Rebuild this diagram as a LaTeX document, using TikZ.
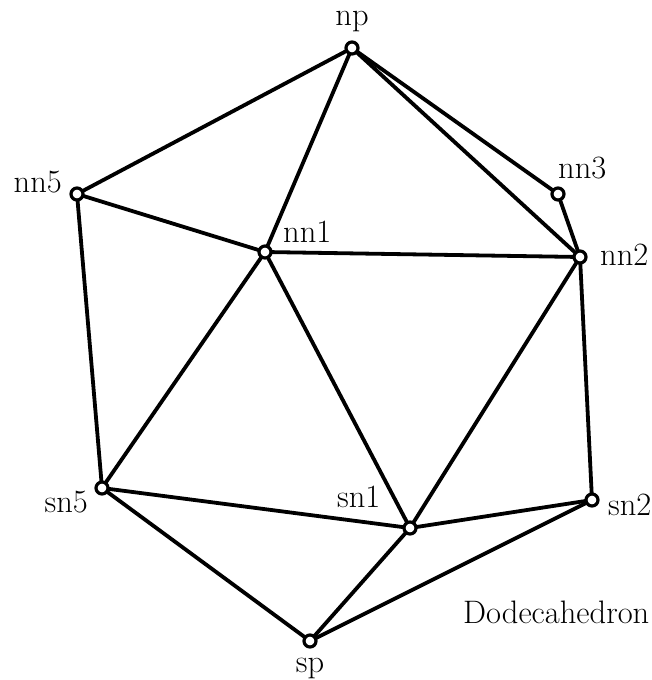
\documentclass[tikz,border=0pt]{standalone}
\begin{document}
\begin{tikzpicture}[x=1pt,y=-1pt,
  vtx/.style={circle,draw=black,fill=white,line width=3.2pt,minimum size=12pt,inner sep=0pt},
  edge/.style={line width=3.8pt,line cap=round},
  lbl/.style={inner sep=0pt,font=\fontsize{32.5}{38}\selectfont}]
\useasboundingbox (0,0) rectangle (651,680);
\coordinate (cnp) at (352,48);
\coordinate (cnn3) at (558,194);
\coordinate (cnn2) at (580,257);
\coordinate (cnn5) at (77,194);
\coordinate (cnn1) at (265,252);
\coordinate (csn5) at (102,488);
\coordinate (csn1) at (410,528);
\coordinate (csn2) at (592,500);
\coordinate (csp) at (310,641);
\draw[edge] (cnp) -- (cnn5);
\draw[edge] (cnp) -- (cnn1);
\draw[edge] (cnp) -- (cnn3);
\draw[edge] (cnp) -- (cnn2);
\draw[edge] (cnn5) -- (cnn1);
\draw[edge] (cnn5) -- (csn5);
\draw[edge] (cnn3) -- (cnn2);
\draw[edge] (cnn1) -- (cnn2);
\draw[edge] (cnn1) -- (csn5);
\draw[edge] (cnn1) -- (csn1);
\draw[edge] (cnn2) -- (csn1);
\draw[edge] (cnn2) -- (csn2);
\draw[edge] (csn5) -- (csn1);
\draw[edge] (csn5) -- (csp);
\draw[edge] (csn1) -- (csn2);
\draw[edge] (csn1) -- (csp);
\draw[edge] (csn2) -- (csp);
\node[vtx] (np) at (cnp) {};
\node[vtx] (nn3) at (cnn3) {};
\node[vtx] (nn2) at (cnn2) {};
\node[vtx] (nn5) at (cnn5) {};
\node[vtx] (nn1) at (cnn1) {};
\node[vtx] (sn5) at (csn5) {};
\node[vtx] (sn1) at (csn1) {};
\node[vtx] (sn2) at (csn2) {};
\node[vtx] (sp) at (csp) {};
\node[lbl,anchor=base] (lnp) at (352,25) {np};
\node[lbl,anchor=base east] (lnn5) at (62,192) {nn5};
\node[lbl,anchor=base west] (lnn3) at (558,178) {nn3};
\node[lbl,anchor=base west] (lnn1) at (283,242) {nn1};
\node[lbl,anchor=base west] (lnn2) at (600,265) {nn2};
\node[lbl,anchor=base east] (lsn5) at (88,512) {sn5};
\node[lbl,anchor=base west] (lsn1) at (337,507) {sn1};
\node[lbl,anchor=base west] (lsn2) at (608,515) {sn2};
\node[lbl,anchor=base] (lsp) at (310,672) {sp};
\node[lbl,anchor=base west] (title) at (463,623) {Dodecahedron};
\end{tikzpicture}
\end{document}
